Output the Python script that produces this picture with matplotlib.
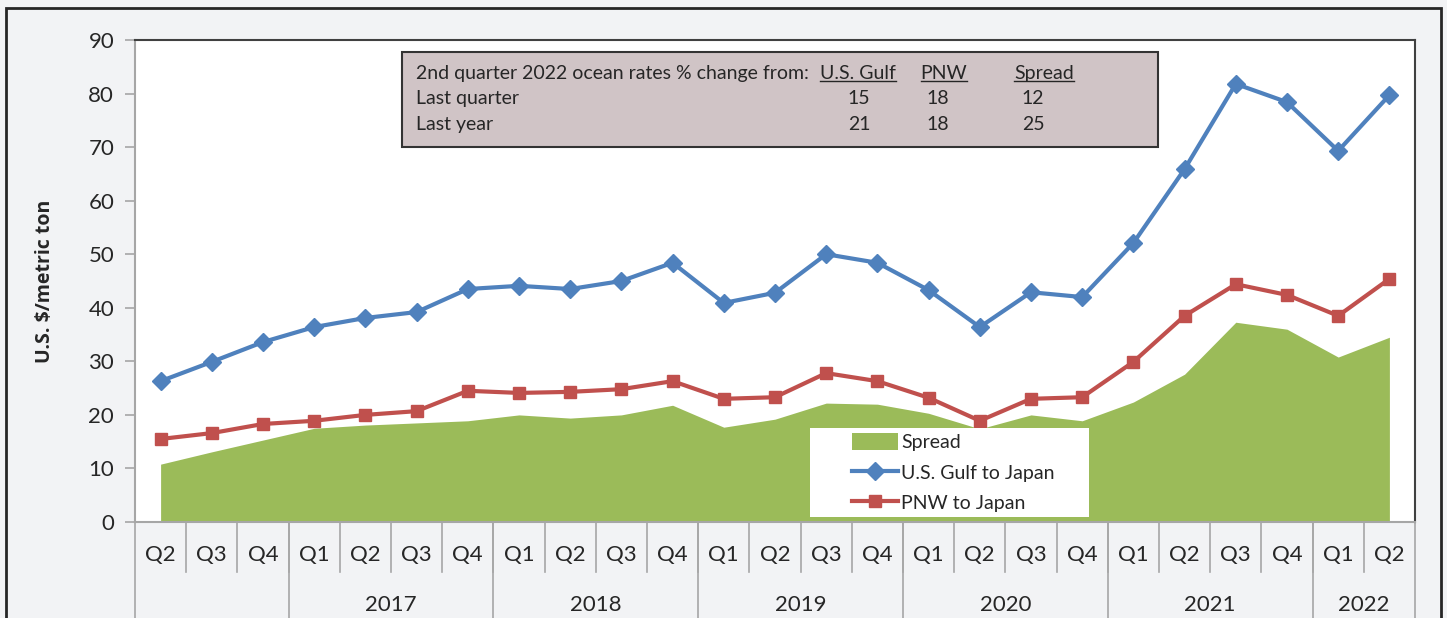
import matplotlib
matplotlib.use('Agg')
import matplotlib.pyplot as plt
from matplotlib.patches import Rectangle, Patch
from matplotlib.lines import Line2D
import numpy as np

# ---- data ----
quarters = ['Q2', 'Q3', 'Q4',
            'Q1', 'Q2', 'Q3', 'Q4',
            'Q1', 'Q2', 'Q3', 'Q4',
            'Q1', 'Q2', 'Q3', 'Q4',
            'Q1', 'Q2', 'Q3', 'Q4',
            'Q1', 'Q2', 'Q3', 'Q4',
            'Q1', 'Q2']
years = ['', '2017', '2018', '2019', '2020', '2021', '2022']
year_sizes = [3, 4, 4, 4, 4, 4, 2]

gulf = [26.3, 29.9, 33.6, 36.4, 38.1, 39.2, 43.5, 44.1, 43.5, 45.0, 48.4,
        40.9, 42.8, 50.0, 48.4, 43.3, 36.4, 42.9, 42.0, 52.1, 65.9, 81.8,
        78.4, 69.3, 79.7]
pnw = [15.5, 16.6, 18.3, 18.9, 20.0, 20.7, 24.5, 24.1, 24.3, 24.8, 26.3,
       23.0, 23.3, 27.8, 26.3, 23.2, 18.9, 23.0, 23.3, 29.9, 38.5, 44.4,
       42.4, 38.5, 45.4]
spread = [10.8, 13.1, 15.3, 17.5, 18.1, 18.5, 18.9, 20.0, 19.4, 20.0, 21.8,
          17.7, 19.2, 22.2, 22.0, 20.3, 17.4, 20.0, 18.9, 22.4, 27.6, 37.3,
          36.0, 30.8, 34.5]

box_title = '2nd quarter 2022 ocean rates % change from:'
box_headers = ['U.S. Gulf', 'PNW', 'Spread']
box_rows = ['Last quarter', 'Last year']
box_values = [[15, 18, 12], [21, 18, 25]]

# ---- style ----
plt.rcParams['font.family'] = ['Lato', 'DejaVu Sans']
GREEN = '#9BBB59'
BLUE = '#4F81BD'
RED = '#C0504D'
BG = '#F2F3F5'
GRID = '#A6A6A6'
TXT = '#262626'

W, H = 1447, 618
fig = plt.figure(figsize=(W / 100, H / 100), dpi=100)
fig.patch.set_facecolor(BG)

# outer frame of the chart
fig.add_artist(Rectangle((6 / W, -0.05), (1441 - 6) / W, 1 - 8 / H + 0.05,
                         transform=fig.transFigure, fill=False,
                         edgecolor='#262626', linewidth=2))

ax = fig.add_axes([135 / W, 1 - 522 / H, (1415 - 135) / W, (522 - 40) / H])
ax.set_facecolor('white')

x = np.arange(len(quarters))
ax.fill_between(x, 0, spread, color=GREEN, linewidth=0, zorder=1)
ax.plot(x, gulf, color=BLUE, lw=3, marker='D', ms=9, zorder=3)
ax.plot(x, pnw, color=RED, lw=3, marker='s', ms=9, zorder=3)

ax.set_xlim(-0.5, len(quarters) - 0.5)
ax.set_ylim(0, 90)
ax.set_yticks(range(0, 91, 10))
ax.tick_params(axis='y', length=7, width=1.2, color=GRID, labelsize=16,
               labelcolor=TXT, pad=8)
ax.set_xticks([])
ax.set_ylabel('U.S. $/metric ton', fontsize=14, fontweight='bold',
              family=['Open Sans', 'DejaVu Sans'], color=TXT, labelpad=24)

for side in ['top', 'right']:
    ax.spines[side].set_color('#404040')
    ax.spines[side].set_linewidth(1.5)
for side in ['left', 'bottom']:
    ax.spines[side].set_color(GRID)
    ax.spines[side].set_linewidth(1.5)

# ---- two-level category axis ----
trans = ax.get_xaxis_transform()
for i, q in enumerate(quarters):
    ax.text(i, -0.068, q, transform=trans, ha='center', va='center',
            fontsize=16, color=TXT)
for i in range(1, len(quarters)):
    ax.plot([i - 0.5, i - 0.5], [0, -0.104], transform=trans, color=GRID,
            lw=1.2, clip_on=False)
start = 0
for yr, n in zip(years, year_sizes):
    ax.plot([start - 0.5, start - 0.5], [0, -0.25], transform=trans,
            color=GRID, lw=1.2, clip_on=False)
    ax.text(start + (n - 1) / 2, -0.172, yr, transform=trans, ha='center',
            va='center', fontsize=16, color=TXT)
    start += n
ax.plot([start - 0.5, start - 0.5], [0, -0.25], transform=trans,
        color=GRID, lw=1.2, clip_on=False)

# ---- percent change box ----
ax.add_patch(Rectangle((0.2086, 0.778), 0.5906, 0.197, transform=ax.transAxes,
                       facecolor='#D0C4C6', edgecolor='#333333', lw=1.5,
                       zorder=4))
row_y = [0.8776, 0.8237]
box_fs = 14
ax.text(0.2195, 0.9315, box_title, transform=ax.transAxes, fontsize=box_fs,
        va='center', color=TXT, zorder=5)
header_x = [0.5648, 0.6320, 0.7102]
value_x = [0.5656, 0.6273, 0.7016]
header_texts = []
for hx, h in zip(header_x, box_headers):
    header_texts.append(ax.text(hx, 0.9315, h, transform=ax.transAxes,
                                fontsize=box_fs, ha='center', va='center',
                                color=TXT, zorder=5))
for ry, label, vals in zip(row_y, box_rows, box_values):
    ax.text(0.2195, ry, label, transform=ax.transAxes, fontsize=box_fs,
            va='center', color=TXT, zorder=5)
    for vx, v in zip(value_x, vals):
        ax.text(vx, ry, str(v), transform=ax.transAxes, fontsize=box_fs,
                ha='center', va='center', color=TXT, zorder=5)

# underline the headers
fig.canvas.draw()
inv = fig.transFigure.inverted()
for t in header_texts:
    bb = t.get_window_extent()
    (x0, y0), (x1, _) = inv.transform([[bb.x0, bb.y0 + 1], [bb.x1, bb.y0]])
    fig.add_artist(Line2D([x0, x1], [y0, y0], color=TXT, lw=1, zorder=6))

# ---- legend (white panel drawn separately, legend itself frameless) ----
ax.add_patch(Rectangle((0.527, 0.010), 0.218, 0.185, transform=ax.transAxes,
                       facecolor='white', edgecolor='none', zorder=4))
handles = [Patch(facecolor=GREEN, edgecolor='none'),
           Line2D([], [], color=BLUE, lw=3, marker='D', ms=9),
           Line2D([], [], color=RED, lw=3, marker='s', ms=9)]
labels = ['Spread', 'U.S. Gulf to Japan', 'PNW to Japan']
leg = ax.legend(handles, labels, loc='upper left',
                bbox_to_anchor=(0.560, 0.185), frameon=False,
                fontsize=14, handlelength=2.4, handleheight=1.0,
                handletextpad=0.15, labelspacing=0.62, borderpad=0,
                borderaxespad=0)
for t in leg.get_texts():
    t.set_color(TXT)
leg.set_zorder(5)

fig.savefig('out.png', dpi=100, facecolor=BG)
